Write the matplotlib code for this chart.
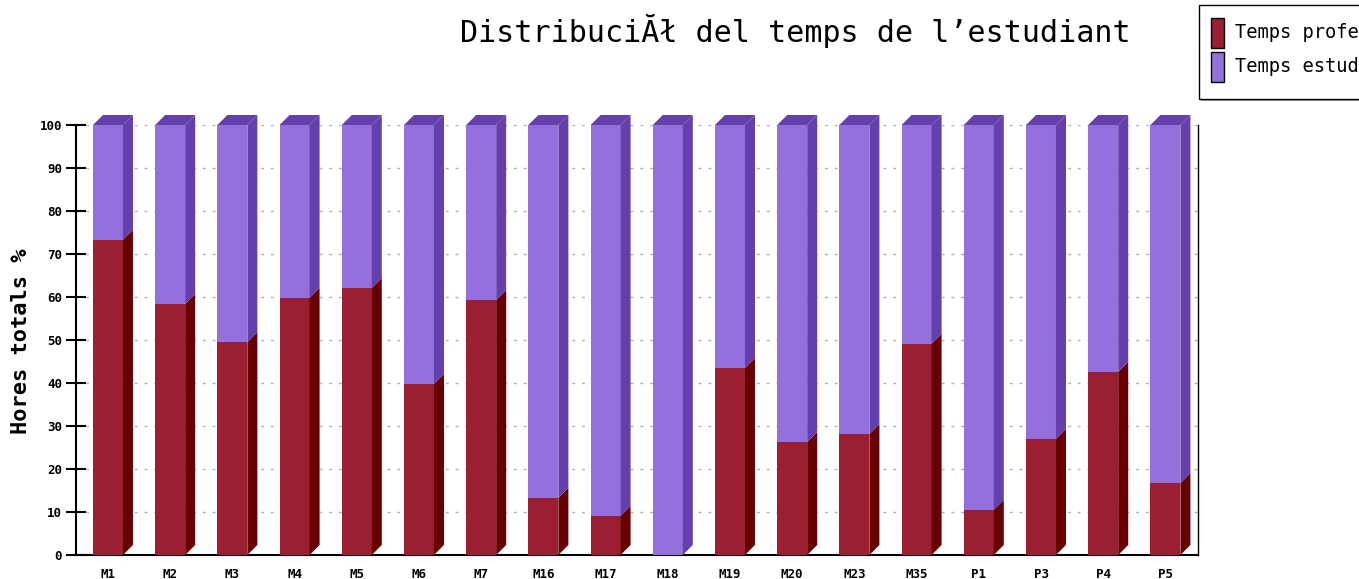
import numpy as np
import matplotlib
matplotlib.use('Agg')
import matplotlib.pyplot as plt
from matplotlib.patches import Polygon, Rectangle

# data (percent of total hours)
modules = ['M1', 'M2', 'M3', 'M4', 'M5', 'M6', 'M7', 'M16', 'M17', 'M18',
           'M19', 'M20', 'M23', 'M35', 'P1', 'P3', 'P4', 'P5']
temps_prof = [73.3, 58.4, 49.5, 59.8, 62.1, 39.8, 59.3, 13.3, 9.1, 0.0,
              43.5, 26.3, 28.1, 49.1, 10.5, 27.0, 42.6, 16.7]
temps_est = [26.7, 41.6, 50.5, 40.2, 37.9, 60.2, 40.7, 86.7, 90.9, 100.0,
             56.5, 73.7, 71.9, 50.9, 89.5, 73.0, 57.4, 83.3]
legend_labels = ['Temps professor', 'Temps estudiant']
yticks = [0, 10, 20, 30, 40, 50, 60, 70, 80, 90, 100]

red, red_dark = '#9a1f33', '#670000'
purple, purple_dark = '#9370db', '#6440ac'
mono = 'DejaVu Sans Mono'

W, H = 1359, 579
fig = plt.figure(figsize=(W / 100, H / 100), dpi=100)
ax = fig.add_axes([76 / W, 24 / H, (1198 - 76) / W, 430 / H])

x = np.arange(len(modules))
w = 0.482    # bar width
dx = 0.161   # 3d depth, data units
dy = 2.33

ax.set_xlim(-0.514, 17.524)
ax.set_ylim(0, 100)

for i in x:
    r = temps_prof[i]
    top = r + temps_est[i]
    xl, xr = i - w / 2, i + w / 2
    if r > 0:
        ax.bar(i, r, w, color=red, zorder=3)
        ax.add_patch(Polygon([(xr, 0), (xr + dx, dy), (xr + dx, r + dy), (xr, r)],
                             closed=True, fc=red_dark, ec='none', zorder=3, clip_on=False))
    ax.bar(i, temps_est[i], w, bottom=r, color=purple, zorder=3)
    ax.add_patch(Polygon([(xr, r), (xr + dx, r + dy), (xr + dx, top + dy), (xr, top)],
                         closed=True, fc=purple_dark, ec='none', zorder=3, clip_on=False))
    ax.add_patch(Polygon([(xl, top), (xl + dx, top + dy), (xr + dx, top + dy), (xr, top)],
                         closed=True, fc=purple_dark, ec='none', zorder=3, clip_on=False))

# grid
for v in yticks[1:]:
    ax.axhline(v, color='#b0b0b0', lw=1, ls=(0, (2, 5)), zorder=1)

ax.set_xticks(x)
ax.set_xticklabels(modules, fontfamily=mono, fontweight='bold', fontsize=9)
ax.set_yticks(yticks)
ax.set_yticklabels([str(v) for v in yticks], fontfamily=mono, fontweight='bold', fontsize=9)
ax.tick_params(axis='x', length=0, pad=9)
ax.tick_params(axis='y', direction='inout', length=14, width=1.5, pad=3)
ax.spines['top'].set_visible(False)
ax.spines['left'].set_linewidth(1.5)
ax.spines['bottom'].set_linewidth(1.5)
ax.spines['right'].set_linewidth(1)
ax.spines['left'].set_zorder(4)
ax.spines['bottom'].set_zorder(2)

fig.text(795 / W, 1 - 31 / H, 'DistribuciĂł del temps de l\u2019estudiant',
         ha='center', va='center', fontfamily=mono, fontsize=21.6)
fig.text(21 / W, 1 - 341 / H, 'Hores totals %', rotation=90, ha='center', va='center',
         fontfamily=mono, fontweight='bold', fontsize=15.8)

# legend box, cut off at the right edge like the original
fig.patches.append(Rectangle((1201 / W, 1 - 101 / H), 200 / W, 94 / H, transform=fig.transFigure,
                             fc='#999999', ec='none', zorder=1))
fig.patches.append(Rectangle((1199 / W, 1 - 99 / H), 200 / W, 94 / H, transform=fig.transFigure,
                             fc='white', ec='black', lw=1, zorder=2))
for k, (lab, col) in enumerate(zip(legend_labels, [red, purple])):
    y0 = 18 + k * 34
    fig.patches.append(Rectangle((1211 / W, 1 - (y0 + 30) / H), 13 / W, 30 / H,
                                 transform=fig.transFigure, fc=col, ec='black', lw=1, zorder=3))
    fig.text(1235 / W, 1 - (y0 + 15) / H, lab, ha='left', va='center',
             fontfamily=mono, fontsize=13.5, zorder=3)

plt.savefig('out.png', dpi=100)
